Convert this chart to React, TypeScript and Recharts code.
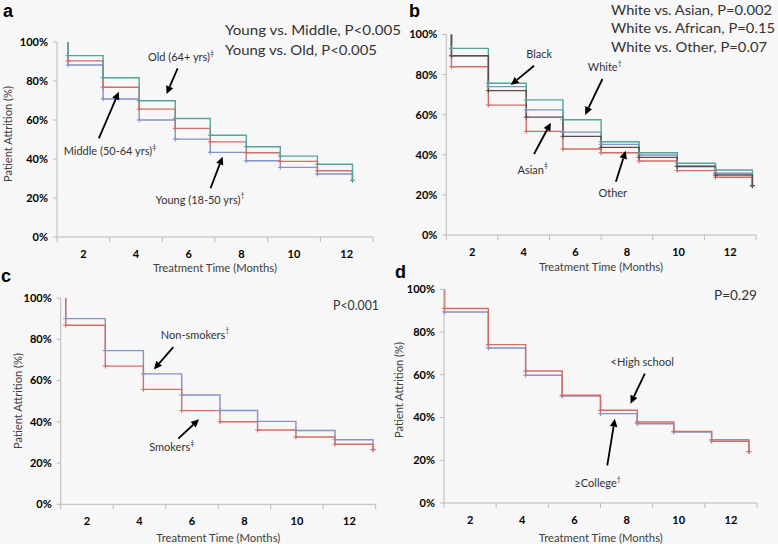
import React from 'react';
import { LineChart, Line, XAxis, YAxis, ReferenceLine, ReferenceDot } from 'recharts';

// ---------- DATA ----------
// Each series: [start(100%), level1 .. level8, final] ; times: step positions (months)
const aTimes = [1.42, 2.75, 4.12, 5.49, 6.82, 8.19, 9.48, 10.89, 12.22];
const aYoung = [100, 88.2, 70.8, 60, 50.2, 43.4, 39.1, 35.7, 32.3, 29];
const aMiddle = [100, 90.3, 76.8, 65.6, 55.7, 48.8, 43.2, 38.8, 34, 29];
const aOld = [100, 93, 81.7, 69.9, 60.8, 52.2, 46.3, 41.5, 37.3, 29];

const bTimes = [1.2, 2.63, 4.1, 5.52, 7.0, 8.47, 9.95, 11.43, 12.86];
const bAsian = [100, 83.9, 64.8, 51.7, 42.9, 41, 36.9, 32.1, 28.8, 24.6];
const bBlack = [100, 89.4, 74, 62.4, 51.3, 45.2, 39.9, 34.6, 30.8, 24.6];
const bWhite = [100, 93.1, 75.7, 67.4, 57.5, 46.5, 41, 35.8, 32.4, 24.6];
const bOther = [100, 89.4, 72, 58.8, 49.2, 43.7, 38.7, 34.1, 29.9, 24.6];

const cTimes = [1.19, 2.7, 4.15, 5.61, 7.07, 8.5, 9.96, 11.45, 12.9];
const cNonSmokers = [100, 90, 74.5, 63.2, 53, 45.5, 40.2, 35.8, 31.3, 26.5];
const cSmokers = [100, 86.8, 67, 55.7, 45.4, 40, 36, 32.6, 29.1, 26.5];

const dTimes = [1.02, 2.7, 4.13, 5.53, 7.0, 8.41, 9.81, 11.26, 12.69];
const dCollege = [100, 89.4, 72.5, 59.8, 50.1, 41.8, 37.1, 33.2, 29.6, 24];
const dHighSchool = [100, 91, 74.1, 61.8, 50.4, 43.4, 37.9, 33.5, 28.9, 24];

const xTickLabels = [2, 4, 6, 8, 10, 12];
const yTicks = [0, 20, 40, 60, 80, 100];

// ---------- STYLE ----------
const FONT = 'Lato, "Open Sans", sans-serif';
const TEAL = '#52a69a';
const RED = '#d66d65';
const BLUE = '#8492c7';
const DARK = '#5e4c45';
const AXIS = '#b9b9b9';
const TXT = '#333333';

type Series = { values: number[]; color: string };
type Annot = { x: number; y: number; text: string; sup?: string };
type Arrow = { from: [number, number]; to: [number, number] };
type PanelCfg = {
  left: number; top: number; w: number; h: number;
  pl: number; pt: number; pr: number; pb: number;
  times: number[]; series: Series[]; annots: Annot[]; arrows: Arrow[];
};

const toPoints = (times: number[], values: number[]) =>
  values.map((v, i) => ({ x: times[Math.max(0, i - 1)], y: v }));

const plusDot = (color: string) => (p: any) => {
  if (p.index === 0 || p.cx == null) return <g key={`d${p.index}`} />;
  return (
    <path key={`d${p.index}`} d={`M${p.cx - 2.5},${p.cy}h5M${p.cx},${p.cy - 2.5}v5`} stroke={color} strokeWidth={1} fill="none" />
  );
};

const makeXTick = (half: number, last: number) => (props: any) => {
  const { x, y, payload } = props;
  return (
    <g>
      <line x1={x - half} y1={y} x2={x - half} y2={y + 5} stroke={AXIS} />
      {payload.value === last && <line x1={x + half} y1={y} x2={x + half} y2={y + 5} stroke={AXIS} />}
      <text x={x} y={y + 16} textAnchor="middle" dominantBaseline="central" fontSize={11} fontWeight={700} fill="#000" fontFamily={FONT}>
        {payload.value}
      </text>
    </g>
  );
};

const arrowShape = (p: any) => {
  const { x1, y1, x2, y2 } = p;
  const ang = Math.atan2(y2 - y1, x2 - x1);
  const L = 8, W = 3.8;
  const bx = x2 - L * Math.cos(ang), by = y2 - L * Math.sin(ang);
  const px = -Math.sin(ang) * W, py = Math.cos(ang) * W;
  return (
    <g>
      <line x1={x1} y1={y1} x2={bx} y2={by} stroke="#000" strokeWidth={1.8} />
      <path d={`M${x2},${y2}L${bx + px},${by + py}L${bx - px},${by - py}Z`} fill="#000" />
    </g>
  );
};

const annotShape = (a: Annot) => (p: any) => (
  <text x={p.cx} y={p.cy} textAnchor="middle" dominantBaseline="central" fontSize={11} fill={TXT} fontFamily={FONT}>
    {a.text}
    {a.sup && <tspan fontSize={7} dy={-4}>{a.sup}</tspan>}
  </text>
);

const panels: PanelCfg[] = [
  {
    left: 0, top: 0, w: 389, h: 272, pl: 57, pt: 42, pr: 373, pb: 237,
    times: aTimes,
    series: [{ values: aYoung, color: BLUE }, { values: aMiddle, color: RED }, { values: aOld, color: TEAL }],
    annots: [
      { x: 5.71, y: 92.5, text: 'Old (64+ yrs)', sup: '‡' },
      { x: 3.01, y: 44.3, text: 'Middle (50-64 yrs)', sup: '‡' },
      { x: 6.43, y: 19.3, text: 'Young (18-50 yrs)', sup: '†' },
    ],
    arrows: [
      { from: [5.58, 86.5], to: [5.16, 73.3] },
      { from: [2.59, 50.6], to: [3.35, 74.5] },
      { from: [6.83, 25], to: [7.29, 41.2] },
    ],
  },
  {
    left: 389, top: 0, w: 389, h: 272, pl: 57.3, pt: 34.5, pr: 367, pb: 235,
    times: bTimes,
    series: [{ values: bAsian, color: RED }, { values: bBlack, color: BLUE }, { values: bWhite, color: TEAL }, { values: bOther, color: DARK }],
    annots: [
      { x: 4.6, y: 90.3, text: 'Black' },
      { x: 7.14, y: 83.9, text: 'White', sup: '†' },
      { x: 4.35, y: 32.8, text: 'Asian', sup: '‡' },
      { x: 7.45, y: 21.3, text: 'Other' },
    ],
    arrows: [
      { from: [4.4, 84.4], to: [3.5, 74.8] },
      { from: [7.05, 77.8], to: [6.38, 59.9] },
      { from: [4.4, 40.4], to: [5.05, 56] },
      { from: [7.57, 26.6], to: [7.95, 42] },
    ],
  },
  {
    left: 0, top: 272, w: 389, h: 272, pl: 60.7, pt: 26, pr: 375.7, pb: 232.3,
    times: cTimes,
    series: [{ values: cNonSmokers, color: BLUE }, { values: cSmokers, color: RED }],
    annots: [
      { x: 6.12, y: 82.4, text: 'Non-smokers', sup: '†' },
      { x: 5.23, y: 27.8, text: 'Smokers', sup: '‡' },
    ],
    arrows: [
      { from: [5.29, 76.2], to: [4.55, 65.4] },
      { from: [5.48, 31.8], to: [6.27, 41.2] },
    ],
  },
  {
    left: 389, top: 272, w: 389, h: 272, pl: 55, pt: 17.3, pr: 368, pb: 231,
    times: dTimes,
    series: [{ values: dCollege, color: BLUE }, { values: dHighSchool, color: RED }],
    annots: [
      { x: 8.6, y: 66.3, text: '<High school' },
      { x: 6.89, y: 9.4, text: '≥College', sup: '†' },
    ],
    arrows: [
      { from: [8.7, 60.5], to: [8.15, 46.5] },
      { from: [7.26, 17.6], to: [7.55, 39.4] },
    ],
  },
];

const Panel = ({ cfg }: { cfg: PanelCfg }) => {
  const half = (cfg.pr - cfg.pl) / 12;
  return (
    <div style={{ position: 'absolute', left: cfg.left, top: cfg.top, width: cfg.w, height: cfg.h }}>
      <LineChart width={cfg.w} height={cfg.h} margin={{ top: cfg.pt, right: cfg.w - cfg.pr, bottom: 0, left: 0 }}>
        <XAxis
          type="number"
          dataKey="x"
          domain={[1, 13]}
          ticks={xTickLabels}
          interval={0}
          height={cfg.h - cfg.pb}
          stroke={AXIS}
          tickLine={false}
          tickSize={0}
          tickMargin={0}
          tick={makeXTick(half, xTickLabels[xTickLabels.length - 1])}
        />
        <YAxis
          type="number"
          domain={[0, 100]}
          ticks={yTicks}
          interval={0}
          width={cfg.pl}
          stroke={AXIS}
          tickSize={4}
          tickMargin={5}
          tickFormatter={(v: number) => `${v}%`}
          tick={{ fill: '#000', fontSize: 11, fontWeight: 700, fontFamily: FONT }}
        />
        {cfg.series.map((s, i) => (
          <Line
            key={i}
            data={toPoints(cfg.times, s.values)}
            dataKey="y"
            type="stepAfter"
            stroke={s.color}
            strokeWidth={1.4}
            dot={plusDot(s.color)}
            activeDot={false}
            isAnimationActive={false}
          />
        ))}
        {cfg.arrows.map((a, i) => (
          <ReferenceLine
            key={`ar${i}`}
            segment={[{ x: a.from[0], y: a.from[1] }, { x: a.to[0], y: a.to[1] }]}
            shape={arrowShape}
            ifOverflow="visible"
          />
        ))}
        {cfg.annots.map((a, i) => (
          <ReferenceDot key={`an${i}`} x={a.x} y={a.y} r={0} shape={annotShape(a)} ifOverflow="visible" />
        ))}
      </LineChart>
    </div>
  );
};

const pText = (x: number, y: number, s: string, len: number) => (
  <text x={x} y={y} dominantBaseline="central" fontSize={14} fill={TXT} fontFamily={FONT} textLength={len} lengthAdjust="spacingAndGlyphs">
    {s}
  </text>
);

const yTitle = (x: number, y: number) => (
  <text x={x} y={y} transform={`rotate(-90 ${x} ${y})`} textAnchor="middle" dominantBaseline="central" fontSize={11} fill="#404040" fontFamily={FONT} textLength={96} lengthAdjust="spacingAndGlyphs">
    Patient Attrition (%)
  </text>
);

const xTitle = (x: number, y: number) => (
  <text x={x} y={y} textAnchor="middle" dominantBaseline="central" fontSize={12} fill="#404040" fontFamily={FONT} textLength={124} lengthAdjust="spacingAndGlyphs">
    Treatment Time (Months)
  </text>
);

const letter = (x: number, y: number, s: string) => (
  <text x={x} y={y} fontSize={18} fontWeight={700} fill="#000" fontFamily='"Liberation Sans", Arial, sans-serif'>
    {s}
  </text>
);

export default function App() {
  return (
    <div style={{ position: 'absolute', left: 0, top: 0, width: 778, height: 544, background: '#f7f7f7', overflow: 'hidden' }}>
      {panels.map((p, i) => (
        <Panel key={i} cfg={p} />
      ))}
      <svg width={778} height={544} style={{ position: 'absolute', left: 0, top: 0, pointerEvents: 'none' }}>
        {letter(3, 17, 'a')}
        {letter(409, 17, 'b')}
        {letter(1, 282, 'c')}
        {letter(395, 278, 'd')}
        {pText(225, 29, 'Young vs. Middle, P<0.005', 176)}
        {pText(225, 49, 'Young vs. Old, P<0.005', 152)}
        {pText(611, 9, 'White vs. Asian, P=0.002', 161)}
        {pText(611, 27.5, 'White vs. African, P=0.15', 164)}
        {pText(611, 46, 'White vs. Other, P=0.07', 156)}
        {pText(333, 304.7, 'P<0.001', 46)}
        {pText(714, 294.7, 'P=0.29', 43)}
        {yTitle(7.5, 134)}
        {yTitle(17.5, 401)}
        {yTitle(398, 390)}
        {xTitle(215, 267)}
        {xTitle(601, 266.7)}
        {xTitle(218.3, 537)}
        {xTitle(600.8, 537)}
      </svg>
    </div>
  );
}
